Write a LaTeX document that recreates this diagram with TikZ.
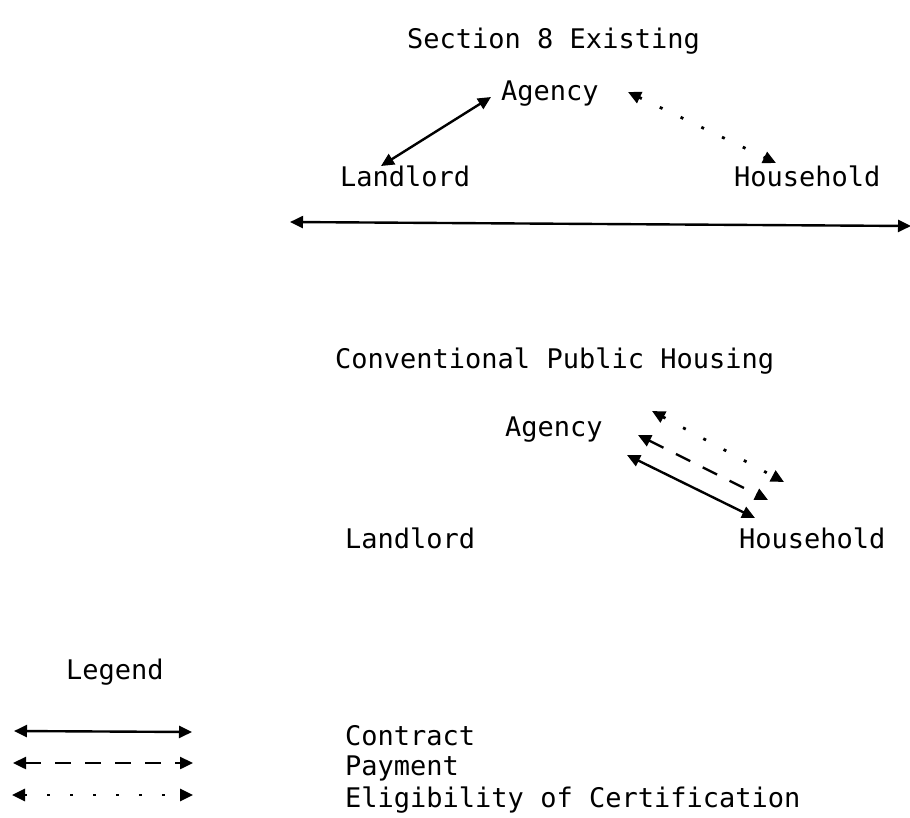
\documentclass[tikz,border=0pt]{standalone}
\usepackage{fontspec}
\setmainfont{DejaVu Sans Mono}
\usetikzlibrary{arrows.meta}
\begin{document}
\begin{tikzpicture}[x=1pt,y=-1pt,
  lbl/.style={font=\fontsize{27}{30}\selectfont, inner sep=0pt, anchor=base west},
  >={Triangle[length=13pt,width=12pt]},
  contract/.style={line width=2.4pt,<->},
  payment/.style={line width=2.4pt,<->,dash pattern=on 16pt off 14pt},
  elig/.style={line width=2.8pt,<->,dash pattern=on 3pt off 20pt}]
\useasboundingbox (0,0) rectangle (910,817);
% Section 8 Existing
\node[lbl] (t1) at (407,48) {Section 8 Existing};
\node[lbl] (ag1) at (501,100) {Agency};
\node[lbl] (ll1) at (340,186) {Landlord};
\node[lbl] (hh1) at (734,186) {Household};
\coordinate (l1a) at (381,166);
\coordinate (l1b) at (491,97);
\coordinate (d1a) at (628,92);
\coordinate (d1b) at (776,163);
\coordinate (la) at (290,222);
\coordinate (lb) at (911,226);
\draw[contract] (l1a) -- (l1b);
\draw[elig] (d1a) -- (d1b);
\draw[contract] (la) -- (lb);
% Conventional Public Housing
\node[lbl] (t2) at (335,368) {Conventional Public Housing};
\node[lbl] (ag2) at (505,436) {Agency};
\node[lbl] (ll2) at (345,548) {Landlord};
\node[lbl] (hh2) at (739,548) {Household};
\coordinate (s2a) at (627,455);
\coordinate (s2b) at (755,518);
\coordinate (p2a) at (638,435);
\coordinate (p2b) at (768,500);
\coordinate (e2a) at (652,411);
\coordinate (e2b) at (784,482);
\draw[contract] (s2a) -- (s2b);
\draw[payment] (p2a) -- (p2b);
\draw[elig] (e2a) -- (e2b);
% Legend
\node[lbl] (lg) at (66,679) {Legend};
\coordinate (c1) at (14,731);
\coordinate (c2) at (192,732);
\coordinate (p1) at (13,763);
\coordinate (p2) at (193,763);
\coordinate (e1) at (12,795);
\coordinate (e2) at (193,795);
\draw[contract] (c1) -- (c2);
\draw[payment] (p1) -- (p2);
\draw[elig] (e1) -- (e2);
\node[lbl] (lc) at (345,745) {Contract};
\node[lbl] (lp) at (345,775) {Payment};
\node[lbl] (le) at (345,807) {Eligibility of Certification};
\end{tikzpicture}
\end{document}
